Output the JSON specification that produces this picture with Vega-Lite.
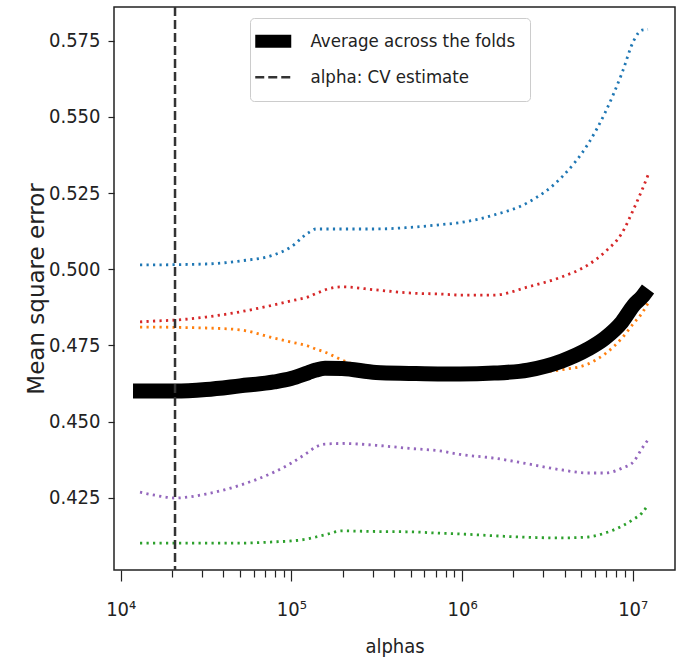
{
  "$schema": "https://vega.github.io/schema/vega-lite/v6.json",
  "width": 561,
  "height": 563,
  "autosize": {"type": "none"},
  "padding": {"left": 114, "top": 7, "right": 2, "bottom": 91},
  "background": "white",
  "datasets": {
    "folds": [
      {"alpha": 12975, "mse": 0.5014, "series": "Fold 1"},
      {"alpha": 15885, "mse": 0.5014, "series": "Fold 1"},
      {"alpha": 20810, "mse": 0.5015, "series": "Fold 1"},
      {"alpha": 31610, "mse": 0.5017, "series": "Fold 1"},
      {"alpha": 50000, "mse": 0.5027, "series": "Fold 1"},
      {"alpha": 79100, "mse": 0.5047, "series": "Fold 1"},
      {"alpha": 99500, "mse": 0.5073, "series": "Fold 1"},
      {"alpha": 125150, "mse": 0.5119, "series": "Fold 1"},
      {"alpha": 139400, "mse": 0.5132, "series": "Fold 1"},
      {"alpha": 157400, "mse": 0.5132, "series": "Fold 1"},
      {"alpha": 198000, "mse": 0.5132, "series": "Fold 1"},
      {"alpha": 313200, "mse": 0.5132, "series": "Fold 1"},
      {"alpha": 489000, "mse": 0.5137, "series": "Fold 1"},
      {"alpha": 773500, "mse": 0.5147, "series": "Fold 1"},
      {"alpha": 973000, "mse": 0.5153, "series": "Fold 1"},
      {"alpha": 1539000, "mse": 0.5178, "series": "Fold 1"},
      {"alpha": 2435000, "mse": 0.5219, "series": "Fold 1"},
      {"alpha": 3852000, "mse": 0.5303, "series": "Fold 1"},
      {"alpha": 5472000, "mse": 0.5411, "series": "Fold 1"},
      {"alpha": 6881000, "mse": 0.5513, "series": "Fold 1"},
      {"alpha": 8655000, "mse": 0.5644, "series": "Fold 1"},
      {"alpha": 10176000, "mse": 0.5752, "series": "Fold 1"},
      {"alpha": 11336000, "mse": 0.5785, "series": "Fold 1"},
      {"alpha": 12295000, "mse": 0.5787, "series": "Fold 1"},

      {"alpha": 12975, "mse": 0.4810, "series": "Fold 2"},
      {"alpha": 15885, "mse": 0.4810, "series": "Fold 2"},
      {"alpha": 20810, "mse": 0.4809, "series": "Fold 2"},
      {"alpha": 31610, "mse": 0.4807, "series": "Fold 2"},
      {"alpha": 50000, "mse": 0.4801, "series": "Fold 2"},
      {"alpha": 79100, "mse": 0.4774, "series": "Fold 2"},
      {"alpha": 99500, "mse": 0.4761, "series": "Fold 2"},
      {"alpha": 125150, "mse": 0.4748, "series": "Fold 2"},
      {"alpha": 139400, "mse": 0.4738, "series": "Fold 2"},
      {"alpha": 157400, "mse": 0.4728, "series": "Fold 2"},
      {"alpha": 198000, "mse": 0.4702, "series": "Fold 2"},
      {"alpha": 313200, "mse": 0.4669, "series": "Fold 2"},
      {"alpha": 489000, "mse": 0.4659, "series": "Fold 2"},
      {"alpha": 773500, "mse": 0.4656, "series": "Fold 2"},
      {"alpha": 973000, "mse": 0.4656, "series": "Fold 2"},
      {"alpha": 1539000, "mse": 0.4656, "series": "Fold 2"},
      {"alpha": 2435000, "mse": 0.4659, "series": "Fold 2"},
      {"alpha": 3852000, "mse": 0.4670, "series": "Fold 2"},
      {"alpha": 5472000, "mse": 0.4689, "series": "Fold 2"},
      {"alpha": 6881000, "mse": 0.4722, "series": "Fold 2"},
      {"alpha": 8655000, "mse": 0.4774, "series": "Fold 2"},
      {"alpha": 10176000, "mse": 0.4824, "series": "Fold 2"},
      {"alpha": 11336000, "mse": 0.4856, "series": "Fold 2"},
      {"alpha": 12295000, "mse": 0.4889, "series": "Fold 2"},

      {"alpha": 12975, "mse": 0.4101, "series": "Fold 3"},
      {"alpha": 15885, "mse": 0.4101, "series": "Fold 3"},
      {"alpha": 20810, "mse": 0.4101, "series": "Fold 3"},
      {"alpha": 31610, "mse": 0.4101, "series": "Fold 3"},
      {"alpha": 50000, "mse": 0.4101, "series": "Fold 3"},
      {"alpha": 79100, "mse": 0.4105, "series": "Fold 3"},
      {"alpha": 99500, "mse": 0.4108, "series": "Fold 3"},
      {"alpha": 125150, "mse": 0.4115, "series": "Fold 3"},
      {"alpha": 139400, "mse": 0.4121, "series": "Fold 3"},
      {"alpha": 157400, "mse": 0.4128, "series": "Fold 3"},
      {"alpha": 198000, "mse": 0.4141, "series": "Fold 3"},
      {"alpha": 313200, "mse": 0.4139, "series": "Fold 3"},
      {"alpha": 489000, "mse": 0.4138, "series": "Fold 3"},
      {"alpha": 773500, "mse": 0.4133, "series": "Fold 3"},
      {"alpha": 973000, "mse": 0.4131, "series": "Fold 3"},
      {"alpha": 1539000, "mse": 0.4125, "series": "Fold 3"},
      {"alpha": 2435000, "mse": 0.4120, "series": "Fold 3"},
      {"alpha": 3852000, "mse": 0.4118, "series": "Fold 3"},
      {"alpha": 5472000, "mse": 0.4121, "series": "Fold 3"},
      {"alpha": 6881000, "mse": 0.4134, "series": "Fold 3"},
      {"alpha": 8655000, "mse": 0.4157, "series": "Fold 3"},
      {"alpha": 10176000, "mse": 0.4180, "series": "Fold 3"},
      {"alpha": 11336000, "mse": 0.4200, "series": "Fold 3"},
      {"alpha": 12295000, "mse": 0.4226, "series": "Fold 3"},

      {"alpha": 12975, "mse": 0.4827, "series": "Fold 4"},
      {"alpha": 15885, "mse": 0.4830, "series": "Fold 4"},
      {"alpha": 20810, "mse": 0.4833, "series": "Fold 4"},
      {"alpha": 31610, "mse": 0.4843, "series": "Fold 4"},
      {"alpha": 50000, "mse": 0.4860, "series": "Fold 4"},
      {"alpha": 79100, "mse": 0.4883, "series": "Fold 4"},
      {"alpha": 99500, "mse": 0.4896, "series": "Fold 4"},
      {"alpha": 125150, "mse": 0.4909, "series": "Fold 4"},
      {"alpha": 139400, "mse": 0.4920, "series": "Fold 4"},
      {"alpha": 157400, "mse": 0.4932, "series": "Fold 4"},
      {"alpha": 198000, "mse": 0.4942, "series": "Fold 4"},
      {"alpha": 313200, "mse": 0.4932, "series": "Fold 4"},
      {"alpha": 489000, "mse": 0.4922, "series": "Fold 4"},
      {"alpha": 773500, "mse": 0.4918, "series": "Fold 4"},
      {"alpha": 973000, "mse": 0.4915, "series": "Fold 4"},
      {"alpha": 1539000, "mse": 0.4915, "series": "Fold 4"},
      {"alpha": 2435000, "mse": 0.4942, "series": "Fold 4"},
      {"alpha": 3852000, "mse": 0.4975, "series": "Fold 4"},
      {"alpha": 5472000, "mse": 0.5014, "series": "Fold 4"},
      {"alpha": 6881000, "mse": 0.5057, "series": "Fold 4"},
      {"alpha": 8655000, "mse": 0.5119, "series": "Fold 4"},
      {"alpha": 10176000, "mse": 0.5200, "series": "Fold 4"},
      {"alpha": 11336000, "mse": 0.5260, "series": "Fold 4"},
      {"alpha": 12295000, "mse": 0.5309, "series": "Fold 4"},

      {"alpha": 12975, "mse": 0.4268, "series": "Fold 5"},
      {"alpha": 15885, "mse": 0.4258, "series": "Fold 5"},
      {"alpha": 20810, "mse": 0.4249, "series": "Fold 5"},
      {"alpha": 31610, "mse": 0.4262, "series": "Fold 5"},
      {"alpha": 50000, "mse": 0.4291, "series": "Fold 5"},
      {"alpha": 79100, "mse": 0.4334, "series": "Fold 5"},
      {"alpha": 99500, "mse": 0.4363, "series": "Fold 5"},
      {"alpha": 125150, "mse": 0.4399, "series": "Fold 5"},
      {"alpha": 139400, "mse": 0.4417, "series": "Fold 5"},
      {"alpha": 157400, "mse": 0.4426, "series": "Fold 5"},
      {"alpha": 198000, "mse": 0.4428, "series": "Fold 5"},
      {"alpha": 313200, "mse": 0.4422, "series": "Fold 5"},
      {"alpha": 489000, "mse": 0.4412, "series": "Fold 5"},
      {"alpha": 773500, "mse": 0.4402, "series": "Fold 5"},
      {"alpha": 973000, "mse": 0.4392, "series": "Fold 5"},
      {"alpha": 1539000, "mse": 0.4380, "series": "Fold 5"},
      {"alpha": 2435000, "mse": 0.4361, "series": "Fold 5"},
      {"alpha": 3852000, "mse": 0.4341, "series": "Fold 5"},
      {"alpha": 5472000, "mse": 0.4331, "series": "Fold 5"},
      {"alpha": 6881000, "mse": 0.4331, "series": "Fold 5"},
      {"alpha": 8655000, "mse": 0.4347, "series": "Fold 5"},
      {"alpha": 10176000, "mse": 0.4370, "series": "Fold 5"},
      {"alpha": 11336000, "mse": 0.4412, "series": "Fold 5"},
      {"alpha": 12295000, "mse": 0.4440, "series": "Fold 5"}
    ],
    "mean": [
      {"alpha": 11808, "mse": 0.4600, "series": "Average across the folds"},
      {"alpha": 12975, "mse": 0.4600, "series": "Average across the folds"},
      {"alpha": 15885, "mse": 0.4600, "series": "Average across the folds"},
      {"alpha": 20810, "mse": 0.4600, "series": "Average across the folds"},
      {"alpha": 31610, "mse": 0.4605, "series": "Average across the folds"},
      {"alpha": 50000, "mse": 0.4617, "series": "Average across the folds"},
      {"alpha": 79100, "mse": 0.4630, "series": "Average across the folds"},
      {"alpha": 99500, "mse": 0.4641, "series": "Average across the folds"},
      {"alpha": 125150, "mse": 0.4660, "series": "Average across the folds"},
      {"alpha": 139400, "mse": 0.4669, "series": "Average across the folds"},
      {"alpha": 157400, "mse": 0.4675, "series": "Average across the folds"},
      {"alpha": 198000, "mse": 0.4674, "series": "Average across the folds"},
      {"alpha": 313200, "mse": 0.4661, "series": "Average across the folds"},
      {"alpha": 489000, "mse": 0.4658, "series": "Average across the folds"},
      {"alpha": 773500, "mse": 0.4656, "series": "Average across the folds"},
      {"alpha": 973000, "mse": 0.4656, "series": "Average across the folds"},
      {"alpha": 1539000, "mse": 0.4659, "series": "Average across the folds"},
      {"alpha": 2435000, "mse": 0.4669, "series": "Average across the folds"},
      {"alpha": 3852000, "mse": 0.4699, "series": "Average across the folds"},
      {"alpha": 5472000, "mse": 0.4738, "series": "Average across the folds"},
      {"alpha": 6881000, "mse": 0.4774, "series": "Average across the folds"},
      {"alpha": 8655000, "mse": 0.4827, "series": "Average across the folds"},
      {"alpha": 10176000, "mse": 0.4883, "series": "Average across the folds"},
      {"alpha": 11336000, "mse": 0.4909, "series": "Average across the folds"},
      {"alpha": 12295000, "mse": 0.4935, "series": "Average across the folds"}
    ],
    "cv": [
      {"alpha": 20810, "series": "alpha: CV estimate"}
    ]
  },
  "layer": [
    {
      "data": {"name": "folds"},
      "mark": {"type": "line", "strokeWidth": 2.8, "strokeDash": [2.2, 4.3], "interpolate": "monotone", "clip": true},
      "encoding": {
        "x": {"field": "alpha", "type": "quantitative",
          "scale": {"type": "log", "domain": [9135, 17690000]},
          "axis": {
            "title": "alphas",
            "values": [10000, 20000, 30000, 40000, 50000, 60000, 70000, 80000, 90000, 100000, 200000, 300000, 400000, 500000, 600000, 700000, 800000, 900000, 1000000, 2000000, 3000000, 4000000, 5000000, 6000000, 7000000, 8000000, 9000000, 10000000],
            "labelExpr": "datum.value == 10000 ? '10⁴' : datum.value == 100000 ? '10⁵' : datum.value == 1000000 ? '10⁶' : datum.value == 10000000 ? '10⁷' : ''",
            "tickSize": {"condition": {"test": "indexof([10000, 100000, 1000000, 10000000], datum.value) >= 0", "value": 11}, "value": 7},
            "labelPadding": 18,
            "labelBaseline": "top",
            "labelFlush": false,
            "labelOverlap": false,
            "titleY": 66,
            "titleBaseline": "top"
          }
        },
        "y": {"field": "mse", "type": "quantitative",
          "scale": {"domain": [0.40127, 0.58606], "nice": false, "zero": false},
          "axis": {
            "title": "Mean square error",
            "values": [0.425, 0.45, 0.475, 0.5, 0.525, 0.55, 0.575],
            "format": ".3f",
            "tickSize": 6,
            "labelPadding": 8,
            "titleFont": "DejaVu Sans",
            "titleFontSize": 23,
            "titleX": -71,
            "titleBaseline": "alphabetic"
          }
        },
        "color": {"field": "series", "type": "nominal",
          "scale": {
            "domain": ["Average across the folds", "alpha: CV estimate", "Fold 1", "Fold 2", "Fold 3", "Fold 4", "Fold 5"],
            "range": ["#000000", "#333333", "#1f77b4", "#ff7f0e", "#2ca02c", "#d62728", "#9467bd"]
          },
          "legend": {"values": ["Average across the folds", "alpha: CV estimate"], "title": null,
            "encode": {"symbols": {"update": {"strokeWidth": {"signal": "datum.value === 'Average across the folds' ? 13 : 2.5"}}}}}
        }
      }
    },
    {
      "data": {"name": "mean"},
      "mark": {"type": "line", "strokeWidth": 15, "strokeCap": "butt", "interpolate": "monotone", "clip": true},
      "encoding": {
        "x": {"field": "alpha", "type": "quantitative", "scale": {"type": "log", "domain": [9135, 17690000]}},
        "y": {"field": "mse", "type": "quantitative", "scale": {"domain": [0.40127, 0.58606], "nice": false, "zero": false}},
        "color": {"field": "series", "type": "nominal",
          "scale": {
            "domain": ["Average across the folds", "alpha: CV estimate", "Fold 1", "Fold 2", "Fold 3", "Fold 4", "Fold 5"],
            "range": ["#000000", "#333333", "#1f77b4", "#ff7f0e", "#2ca02c", "#d62728", "#9467bd"]
          },
          "legend": {"values": ["Average across the folds", "alpha: CV estimate"], "title": null,
            "encode": {"symbols": {"update": {"strokeWidth": {"signal": "datum.value === 'Average across the folds' ? 13 : 2.5"}}}}}
        },
        "strokeDash": {"field": "series", "type": "nominal",
          "scale": {
            "domain": ["Average across the folds", "alpha: CV estimate", "Fold 1", "Fold 2", "Fold 3", "Fold 4", "Fold 5"],
            "range": [[4000, 1], [9, 4], [2.2, 4.3], [2.2, 4.3], [2.2, 4.3], [2.2, 4.3], [2.2, 4.3]]
          },
          "legend": {"values": ["Average across the folds", "alpha: CV estimate"], "title": null,
            "encode": {"symbols": {"update": {"strokeWidth": {"signal": "datum.value === 'Average across the folds' ? 13 : 2.5"}}}}}
        }
      }
    },
    {
      "data": {"name": "cv"},
      "mark": {"type": "rule", "strokeWidth": 2.5},
      "encoding": {
        "x": {"field": "alpha", "type": "quantitative", "scale": {"type": "log", "domain": [9135, 17690000]}},
        "color": {"field": "series", "type": "nominal",
          "scale": {
            "domain": ["Average across the folds", "alpha: CV estimate", "Fold 1", "Fold 2", "Fold 3", "Fold 4", "Fold 5"],
            "range": ["#000000", "#333333", "#1f77b4", "#ff7f0e", "#2ca02c", "#d62728", "#9467bd"]
          },
          "legend": {"values": ["Average across the folds", "alpha: CV estimate"], "title": null,
            "encode": {"symbols": {"update": {"strokeWidth": {"signal": "datum.value === 'Average across the folds' ? 13 : 2.5"}}}}}
        },
        "strokeDash": {"field": "series", "type": "nominal",
          "scale": {
            "domain": ["Average across the folds", "alpha: CV estimate", "Fold 1", "Fold 2", "Fold 3", "Fold 4", "Fold 5"],
            "range": [[4000, 1], [9, 4], [2.2, 4.3], [2.2, 4.3], [2.2, 4.3], [2.2, 4.3], [2.2, 4.3]]
          },
          "legend": {"values": ["Average across the folds", "alpha: CV estimate"], "title": null,
            "encode": {"symbols": {"update": {"strokeWidth": {"signal": "datum.value === 'Average across the folds' ? 13 : 2.5"}}}}}
        }
      }
    }
  ],
  "config": {
    "font": "DejaVu Sans Condensed, DejaVu Sans",
    "view": {"stroke": "#222222", "strokeWidth": 1.5},
    "axis": {
      "grid": false,
      "domain": false,
      "labelFont": "DejaVu Sans Condensed, DejaVu Sans",
      "labelFontSize": 20,
      "labelColor": "#222222",
      "tickColor": "#222222",
      "tickWidth": 1.2,
      "titleFont": "DejaVu Sans Condensed, DejaVu Sans",
      "titleFontSize": 20,
      "titleFontWeight": "normal",
      "titleColor": "#222222"
    },
    "legend": {
      "orient": "none",
      "legendX": 136,
      "legendY": 11,
      "fillColor": "white",
      "strokeColor": "#cccccc",
      "cornerRadius": 4,
      "padding": 14,
      "symbolType": "stroke",
      "symbolSize": 1296,
      "symbolStrokeWidth": 2.5,
      "labelOffset": 28,
      "rowPadding": 0,
      "labelFont": "DejaVu Sans Condensed, DejaVu Sans",
      "labelFontSize": 18.5,
      "labelColor": "#222222",
      "labelLimit": 400
    }
  }
}
